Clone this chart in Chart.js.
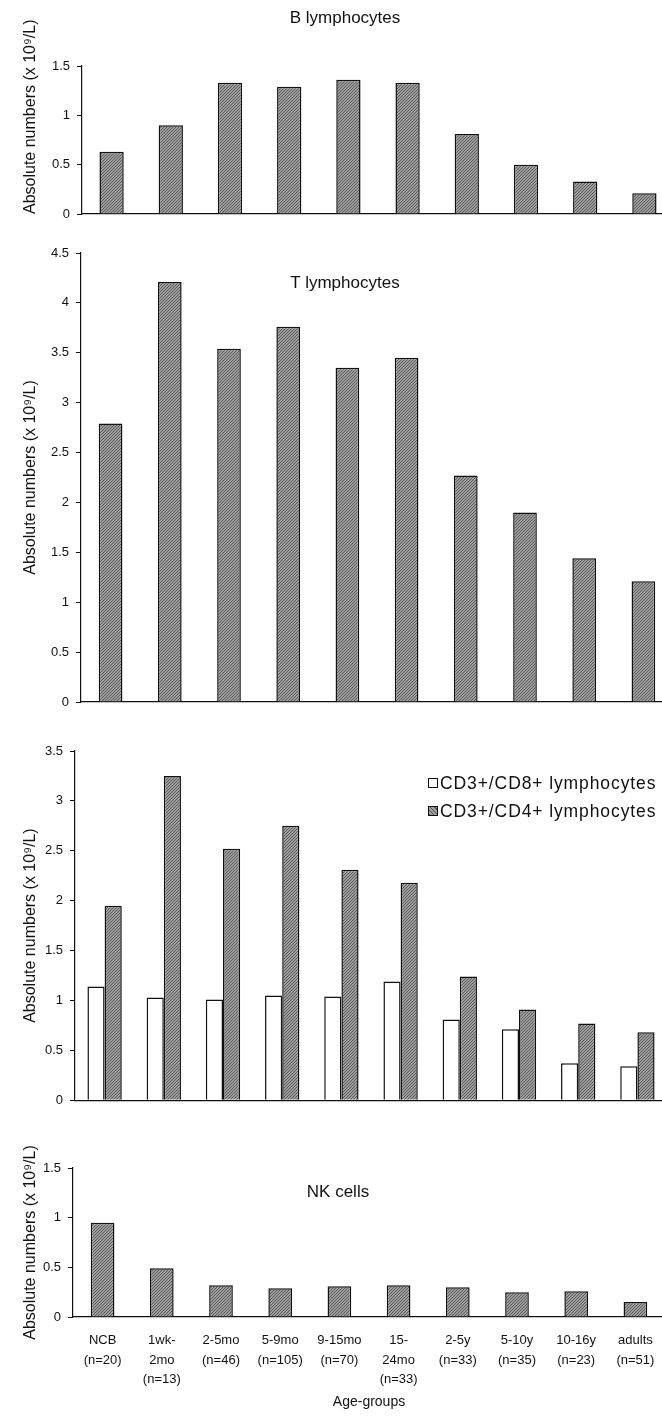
<!DOCTYPE html>
<html>
<head>
<meta charset="utf-8">
<script src="https://cdn.jsdelivr.net/npm/chart.js@4.4.1/dist/chart.umd.min.js"></script>
<style>
  html, body { margin: 0; padding: 0; background: #fff; overflow: hidden; }
  body { width: 662px; height: 1416px; position: relative; font-family: "Liberation Sans", Arial, sans-serif; color: #111; }
  canvas { position: absolute; left: 0; }
  .panel-title { position: absolute; font-size: 17px; line-height: 20px; transform: translateX(-50%); white-space: nowrap; }
  .legend { position: absolute; left: 428px; top: 769px; font-size: 17.5px; letter-spacing: 0.9px; line-height: 28px; white-space: nowrap; }
  .legend span.box { display: inline-block; width: 8px; height: 8px; border: 1px solid #111; margin-right: 2px; vertical-align: 1px; }
  .legend .hatch { background: repeating-linear-gradient(45deg, #555 0 1px, #a0a0a0 1px 3px); }
</style>
</head>
<body>
<canvas id="bChart" width="674" height="230" style="top:0"></canvas>
<canvas id="tChart" width="673" height="490" style="top:230px"></canvas>
<canvas id="subsetChart" width="667" height="385" style="top:730px"></canvas>
<canvas id="nkChart" width="665" height="296" style="top:1120px"></canvas>

<div class="panel-title" style="left:345px; top:8px;">B lymphocytes</div>
<div class="panel-title" style="left:345px; top:273px;">T lymphocytes</div>
<div class="panel-title" style="left:338px; top:1182px;">NK cells</div>
<div class="legend">
  <div><span class="box"></span>CD3+/CD8+ lymphocytes</div>
  <div><span class="box hatch"></span>CD3+/CD4+ lymphocytes</div>
</div>

<script>
/* Lymphocyte subsets by age group - four stacked bar panels */

const AGE_GROUPS = [
  ['NCB', '(n=20)'], ['1wk-', '2mo', '(n=13)'], ['2-5mo', '(n=46)'], ['5-9mo', '(n=105)'],
  ['9-15mo', '(n=70)'], ['15-', '24mo', '(n=33)'], ['2-5y', '(n=33)'], ['5-10y', '(n=35)'],
  ['10-16y', '(n=23)'], ['adults', '(n=51)']
];
const B_CELLS = [0.63, 0.90, 1.33, 1.29, 1.36, 1.33, 0.81, 0.50, 0.33, 0.21];
const T_CELLS = [2.79, 4.21, 3.54, 3.76, 3.35, 3.45, 2.27, 1.90, 1.44, 1.21];
const CD8_CELLS = [1.14, 1.03, 1.01, 1.05, 1.04, 1.19, 0.81, 0.71, 0.37, 0.34];
const CD4_CELLS = [1.95, 3.25, 2.52, 2.75, 2.31, 2.18, 1.24, 0.91, 0.77, 0.68];
const NK_CELLS = [0.95, 0.49, 0.32, 0.29, 0.31, 0.32, 0.30, 0.25, 0.26, 0.15];

const Y_TITLE = 'Absolute numbers (x 10\u2079/L)';
const FONT = '"Liberation Sans", Arial, sans-serif';
const INK = '#111';

Chart.defaults.font.family = FONT;
Chart.defaults.color = INK;
Chart.defaults.animation = false;

// fine diagonal hatch like the printed grey fill
function makeHatch() {
  const c = document.createElement('canvas');
  c.width = 3; c.height = 3;
  const g = c.getContext('2d');
  g.fillStyle = '#a0a0a0';
  g.fillRect(0, 0, 3, 3);
  g.fillStyle = '#555';
  g.fillRect(2, 0, 1, 1);
  g.fillRect(1, 1, 1, 1);
  g.fillRect(0, 2, 1, 1);
  return g.createPattern(c, 'repeat');
}
const HATCH = makeHatch();

function barSet(label, data, fill) {
  return { label, data, backgroundColor: fill, borderColor: INK, borderWidth: 1.5, barPercentage: 1 };
}

// axisX = where the y axis sits, padTop/padBottom place the plot inside the canvas
function buildPanel(id, { labels, datasets, max, axisX, padTop, padBottom, catPct, titleAlign, showX }) {
  return new Chart(document.getElementById(id), {
    type: 'bar',
    data: { labels, datasets },
    options: {
      responsive: false,
      layout: { padding: { top: padTop, bottom: padBottom, left: 0, right: 0 } },
      datasets: { bar: { categoryPercentage: catPct } },
      plugins: { legend: { display: false }, tooltip: { enabled: false } },
      scales: {
        x: {
          grid: { display: false },
          border: { display: true, color: INK, width: 1.2 },
          ticks: { display: !!showX, maxRotation: 0, autoSkip: false, padding: 6, font: { size: 13, lineHeight: 1.5 } },
          title: showX ? { display: true, text: 'Age-groups', font: { size: 14 }, padding: { top: 0, bottom: 5 } } : { display: false },
          afterFit: s => { s.height = showX ? 99 : 0; }
        },
        y: {
          min: 0, max,
          ticks: { stepSize: 0.5, padding: 7, font: { size: 13 }, callback: v => String(v) },
          grid: { drawOnChartArea: false, drawTicks: true, tickLength: 5, color: INK },
          border: { display: true, color: INK, width: 1.2 },
          title: { display: true, text: Y_TITLE, align: titleAlign || 'center', font: { size: 16 }, padding: { top: 21, bottom: 0 } },
          afterFit: s => { s.width = axisX; }
        }
      }
    }
  });
}

buildPanel('bChart', {
  labels: AGE_GROUPS, datasets: [barSet('B lymphocytes', B_CELLS, HATCH)],
  max: 1.5, axisX: 82, padTop: 66, padBottom: 16, catPct: 0.41, titleAlign: 'start'
});

buildPanel('tChart', {
  labels: AGE_GROUPS, datasets: [barSet('T lymphocytes', T_CELLS, HATCH)],
  max: 4.5, axisX: 81, padTop: 23, padBottom: 18, catPct: 0.4
});

buildPanel('subsetChart', {
  labels: AGE_GROUPS,
  datasets: [
    barSet('CD3+/CD8+ lymphocytes', CD8_CELLS, '#fff'),
    barSet('CD3+/CD4+ lymphocytes', CD4_CELLS, HATCH)
  ],
  max: 3.5, axisX: 75, padTop: 21, padBottom: 13, catPct: 0.58
});

buildPanel('nkChart', {
  labels: AGE_GROUPS, datasets: [barSet('NK cells', NK_CELLS, HATCH)],
  max: 1.5, axisX: 73, padTop: 48, padBottom: 0, catPct: 0.4, showX: true
});
</script>
</body>
</html>
